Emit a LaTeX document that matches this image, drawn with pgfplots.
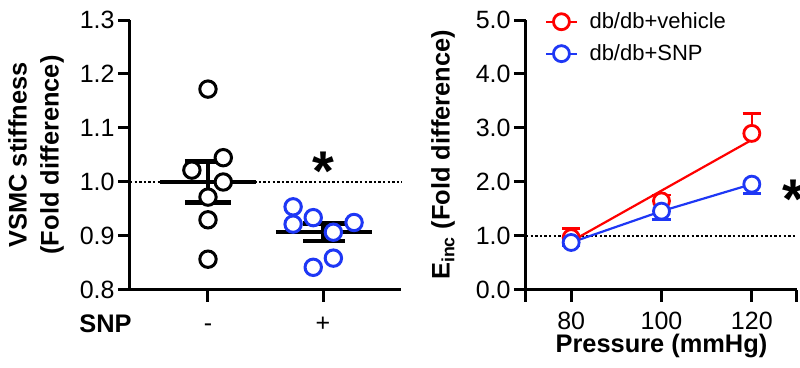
\documentclass[border=0pt]{standalone}
\usepackage{pgfplots}
\pgfplotsset{compat=1.18}
\usepackage{fontspec}
\setmainfont{Liberation Sans}
\definecolor{gblue}{RGB}{30,55,245}
\definecolor{gred}{RGB}{255,0,0}
\begin{document}
\begin{tikzpicture}
\useasboundingbox (0pt,0pt) rectangle (400pt,184pt);
\pgfplotsset{
  myaxis/.style={
    scale only axis, width=135.5pt, height=135pt,
    axis lines*=left,
    axis line style={line width=1.5pt},
    major tick style={line width=1.5pt, black},
    major tick length=6pt,
    tick align=outside,
    /pgf/number format/assume math mode=true,
    tick label style={font=\fontsize{12.5}{14}\selectfont},
    label style={font=\bfseries\fontsize{12.7}{16}\selectfont},
    yticklabel style={inner sep=1.5pt, /pgf/number format/.cd, fixed, fixed zerofill, precision=1},
    clip=false,
  }
}
% ---------------- left panel
\begin{axis}[myaxis, at={(65pt,39pt)}, anchor=south west,
  xmin=0.322, xmax=2.678, ymin=0.8, ymax=1.3,
  ytick={0.8,0.9,1.0,1.1,1.2,1.3},
  xtick={1,2}, xticklabels={{-},{+}},
  xticklabel style={anchor=base, yshift=-15pt},
  ylabel={VSMC stiffness\\(Fold difference)},
  ylabel style={at={(axis description cs:-0.2177,0.5)}, anchor=south, align=center},
]
\addplot[black, line width=1.3pt, dash pattern=on 1.2pt off 1.1pt] coordinates {(0.322,1) (2.69,1)};
\addplot[only marks, mark=*, mark size=4.1pt, mark options={draw=black, fill=white, line width=1.5pt}] coordinates {
(1.0,1.172) (1.133,1.045) (0.86,1.022) (1.133,1.000) (1.0,0.972) (1.0,0.930) (1.0,0.857)};
\addplot[only marks, mark=*, mark size=4.1pt, mark options={draw=gblue, fill=white, line width=1.5pt}] coordinates {
(1.74,0.954) (1.915,0.934) (1.74,0.922) (2.27,0.925) (2.09,0.907) (2.09,0.859) (1.915,0.842)};
\addplot[black, line width=2.2pt] coordinates {(0.583,1.0) (1.417,1.0)};
\addplot[black, line width=2.2pt] coordinates {(1.59,0.907) (2.425,0.907)};
\addplot[draw=none, mark=none, error bars/.cd, y dir=both, y explicit, error mark=|,
  error bar style={line width=2.2pt, black}, error mark options={line width=2.2pt, mark size=11.5pt, black}]
  coordinates {(1,1.0) +- (0,0.038)};
\addplot[draw=none, mark=none, error bars/.cd, y dir=both, y explicit, error mark=|,
  error bar style={line width=2.2pt, black}, error mark options={line width=2.2pt, mark size=10.5pt, black}]
  coordinates {(2.005,0.907) +- (0,0.016)};
\node[font=\bfseries\fontsize{28}{28}\selectfont, anchor=base, inner sep=0pt] at (axis cs:2,0.984) {*};
\node[font=\bfseries\fontsize{12.7}{14}\selectfont, anchor=base east, inner sep=0pt] at (axis description cs:0.0074,-0.159) {SNP};
\end{axis}
% ---------------- right panel
\begin{axis}[myaxis, at={(263pt,39pt)}, anchor=south west,
  xmin=70, xmax=130, ymin=0, ymax=5,
  ytick={0,1,2,3,4,5},
  xtick={70,80,100,120,130}, xticklabels={,80,100,120,},
  xticklabel style={anchor=base, yshift=-14pt},
  ylabel={E\textsubscript{inc} (Fold difference)},
  ylabel style={at={(axis description cs:-0.236,0.5)}, anchor=south},
  xlabel={Pressure (mmHg)},
  xlabel style={at={(axis description cs:0.5,-0.2333)}, anchor=base},
  legend style={at={(axis description cs:0.07,1.045)}, anchor=north west, draw=none, fill=none,
    inner sep=0pt, font=\fontsize{11}{13}\selectfont, row sep=2.5pt,
    nodes={inner xsep=6pt}},
  legend cell align=left,
  legend image code/.code={\draw[mark repeat=2,mark phase=2] plot coordinates {(0cm,0cm) (0.265cm,0cm) (0.53cm,0cm)};},
]
\addlegendimage{gred, line width=1pt, mark=*, mark size=4pt, mark options={fill=white, line width=1.4pt}}
\addlegendentry{db/db+vehicle}
\addlegendimage{gblue, line width=1pt, mark=*, mark size=4pt, mark options={fill=white, line width=1.4pt}}
\addlegendentry{db/db+SNP}
\addplot[forget plot, black, line width=1.3pt, dash pattern=on 1.2pt off 1.1pt] coordinates {(70,1) (130,1)};
\addplot[forget plot, gred, line width=1.1pt] coordinates {(80,0.90) (120,2.78)};
\addplot[forget plot, gblue, line width=1.1pt] coordinates {(80,0.88) (100,1.46) (120,1.96)};
\addplot[forget plot, only marks, mark=*, mark size=4pt, mark options={draw=gred, fill=white, line width=1.4pt},
  error bars/.cd, y dir=plus, y explicit, error mark=|,
  error bar style={line width=1.3pt, gred}, error mark options={line width=1.3pt, mark size=4.6pt, gred}]
  coordinates {(80,0.97) +- (0,0.17) (100,1.65) +- (0,0.11) (120,2.90) +- (0,0.37)};
\addplot[forget plot, only marks, mark=*, mark size=4pt, mark options={draw=gblue, fill=white, line width=1.4pt},
  error bars/.cd, y dir=minus, y explicit, error mark=|,
  error bar style={line width=1.3pt, gblue}, error mark options={line width=1.3pt, mark size=4.6pt, gblue}]
  coordinates {(80,0.88) +- (0,0.06) (100,1.46) +- (0,0.15) (120,1.96) +- (0,0.17)};
\node[font=\bfseries\fontsize{28}{28}\selectfont, anchor=base, inner sep=0pt] at (axis cs:129.1,1.32) {*};
\end{axis}
\end{tikzpicture}
\end{document}
